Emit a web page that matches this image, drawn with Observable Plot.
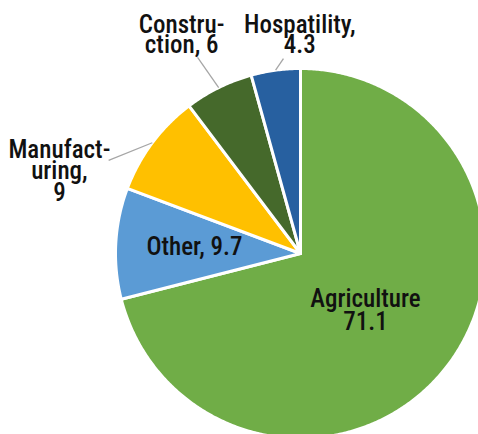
<!DOCTYPE html>
<html>
<head>
<meta charset="utf-8">
<script src="https://cdn.jsdelivr.net/npm/d3@7"></script>
<script src="https://cdn.jsdelivr.net/npm/@observablehq/plot@0.6"></script>
<style>
  html, body { margin: 0; padding: 0; background: #fff; }
  #chart { width: 478px; height: 434px; overflow: hidden; }
</style>
</head>
<body>
<div id="chart"></div>
<script>
// ---- data ----
const categories = ["Agriculture", "Other", "Manufacturing", "Construction", "Hospitality"];
const values = [71.1, 9.7, 9, 6, 4.3];
const colors = ["#70AD47", "#5B9BD5", "#FFC000", "#45692B", "#2760A0"];
const labelTexts = ["Agriculture\n71.1", "Other, 9.7", "Manufact-\nuring,\n9", "Constru-\nction, 6", "Hospatility,\n4.3"];

// ---- layout (label placement in polar terms: degrees clockwise from 12 o'clock, radius in pie radii) ----
const labelAngle = [131.5, 273.4, 288.6, 331.3, 359.8];
const labelRadius = [0.469, 0.574, 1.375, 1.338, 1.173];
const labelLineHeight = [0.92, 1, 0.86, 0.8, 0.82];
const hasLeader = [false, false, true, true, true];
const leaderEndAngle = [0, 0, 295.9, 332.3, 355.0];
const leaderEndRadius = [0, 0, 1.153, 1.197, 1.058];

const W = 478, H = 434, CX = 300, CY = 253, R = 185;
const FONT = "'Liberation Sans Narrow', 'Arial Narrow', 'Roboto Condensed', sans-serif";

const polar = (deg, r) => {
  const a = deg * Math.PI / 180;
  return {x: Math.sin(a) * r, y: Math.cos(a) * r};
};

const arcs = d3.pie().sort(null).value(d => d)(values);

const slicePts = [];
arcs.forEach((a, i) => {
  const cat = categories[i];
  const a0 = a.startAngle * 180 / Math.PI, a1 = a.endAngle * 180 / Math.PI;
  const n = Math.max(2, Math.ceil((a1 - a0) / 0.5));
  slicePts.push({cat, x: 0, y: 0});
  for (let k = 0; k <= n; k++) {
    const p = polar(a0 + (a1 - a0) * k / n, 1);
    slicePts.push({cat, ...p});
  }
  slicePts.push({cat, x: 0, y: 0});
});

const leaders = [];
arcs.forEach((a, i) => {
  if (!hasLeader[i]) return;
  const mid = (a.startAngle + a.endAngle) / 2 * 180 / Math.PI;
  const s = polar(mid, 1.0), e = polar(leaderEndAngle[i], leaderEndRadius[i]);
  leaders.push({x1: s.x, y1: s.y, x2: e.x, y2: e.y});
});

const labelMarks = labelTexts.map((t, i) => {
  const p = polar(labelAngle[i], labelRadius[i]);
  return Plot.text([{...p, t}], {
    x: "x", y: "y", text: "t",
    fontSize: 25, fontWeight: 500, lineHeight: labelLineHeight[i],
    fill: "#111", textAnchor: "middle", lineAnchor: "middle",
    fontFamily: FONT
  });
});

const chart = Plot.plot({
  width: W, height: H,
  marginTop: 0, marginRight: 0, marginBottom: 0, marginLeft: 0,
  x: {domain: [-CX / R, (W - CX) / R], axis: null},
  y: {domain: [-(H - CY) / R, CY / R], axis: null},
  color: {domain: categories, range: colors},
  style: {background: "#fff", fontFamily: FONT, overflow: "hidden"},
  marks: [
    Plot.line(slicePts, {x: "x", y: "y", z: "cat", fill: "cat", stroke: "white", strokeWidth: 3, strokeLinejoin: "round", curve: "linear"}),
    Plot.link(leaders, {x1: "x1", y1: "y1", x2: "x2", y2: "y2", stroke: "#A6A6A6", strokeWidth: 1.3}),
    ...labelMarks
  ]
});
document.getElementById("chart").appendChild(chart);
</script>
</body>
</html>
